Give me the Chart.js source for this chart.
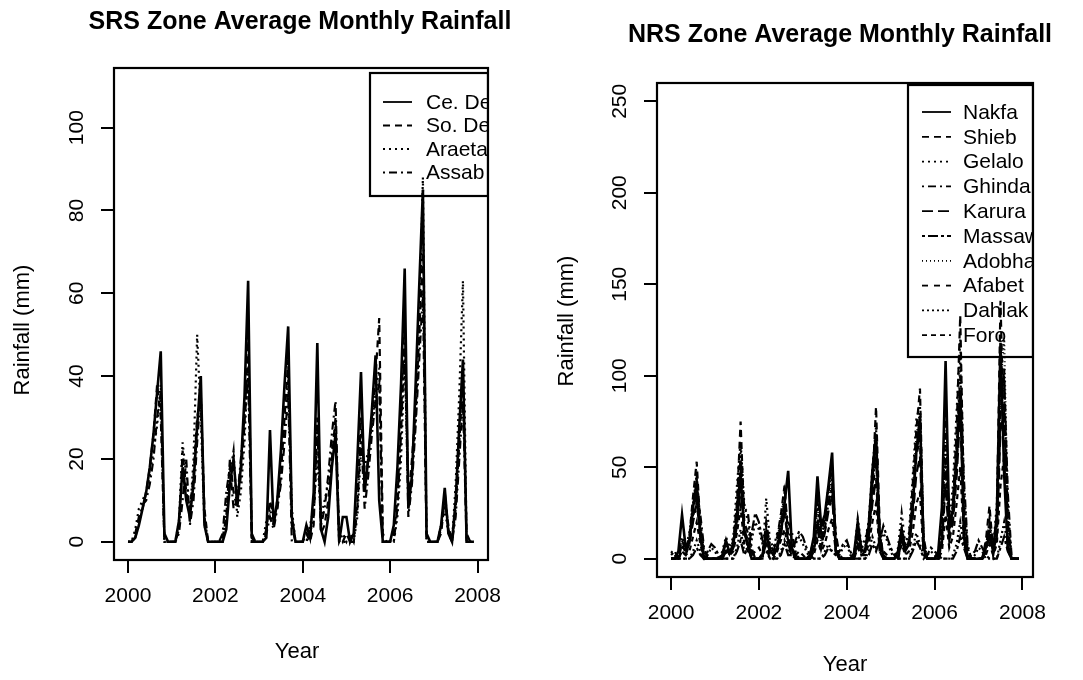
<!DOCTYPE html>
<html>
<head>
<meta charset="utf-8">
<title>SRS / NRS Zone Average Monthly Rainfall</title>
<script src="https://cdn.jsdelivr.net/npm/chart.js@4.4.1/dist/chart.umd.min.js"></script>
<style>
  html, body { margin: 0; padding: 0; background: #fff; }
  .wrap { display: flex; width: 1083px; height: 680px; }
  canvas { display: block; }
</style>
</head>
<body>
<div class="wrap">
  <canvas id="chart-srs" width="541" height="680"></canvas>
  <canvas id="chart-nrs" width="542" height="680"></canvas>
</div>
<script>
// ============================================
// データ（月別、2000年1月〜2007年12月）
// ============================================
const START_YEAR = 2000;
const X_RANGE = [1999.68, 2008.24];
const X_TICKS = [2000, 2002, 2004, 2006, 2008];

const SRS_Y_RANGE = [-4.4, 114.4];
const SRS_Y_TICKS = [0, 20, 40, 60, 80, 100];
const NRS_Y_RANGE = [-10, 260];
const NRS_Y_TICKS = [0, 50, 100, 150, 200, 250];

const SRS_STATIONS = ['Ce. Denkalia', 'So. Denkalia', 'Araeta', 'Assab'];
const NRS_STATIONS = ['Nakfa', 'Shieb', 'Gelalo', 'Ghinda', 'Karura', 'Massawa', 'Adobha', 'Afabet', 'Dahlak', 'Foro'];

// --- SRS zone ---
const CE_DENKALIA = [
  0,0,1,4,8,12,18,26,36,46,2,0,
  0,0,5,18,10,6,14,28,40,4,0,0,
  0,0,0,3,14,20,9,18,35,63,1,0,
  0,0,1,27,4,10,22,38,52,6,0,0,
  0,4,1,12,48,3,0,6,18,26,0,6,
  6,0,2,20,41,12,20,32,45,10,0,0,
  0,4,18,38,66,8,16,38,62,85,2,0,
  0,0,4,13,2,0,10,28,44,0,0,0
];
const SO_DENKALIA = [
  0,0,2,6,8,12,18,26,38,30,0,0,
  0,0,3,22,12,8,16,30,35,8,0,0,
  0,0,1,6,20,12,8,16,28,50,2,0,
  0,0,3,10,6,8,16,30,44,4,0,0,
  0,2,0,4,30,2,4,10,20,30,2,0,
  2,0,1,10,30,14,20,30,40,54,2,0,
  0,2,10,30,55,10,20,32,50,70,0,0,
  0,0,2,10,4,0,8,24,40,2,0,0
];
const ARAETA = [
  0,0,3,8,10,12,16,22,28,38,0,0,
  0,0,5,24,16,6,20,50,30,4,0,0,
  0,0,0,8,16,22,6,12,24,44,0,0,
  0,0,5,8,4,10,18,28,40,8,0,0,
  0,0,4,8,20,6,10,14,22,28,0,2,
  0,2,0,6,22,18,22,28,36,42,0,0,
  0,0,6,20,44,12,16,30,50,88,0,0,
  0,0,4,8,2,0,14,36,63,0,0,0
];
const ASSAB = [
  0,0,1,5,9,10,14,20,30,36,0,0,
  0,0,2,10,20,4,10,24,36,6,0,0,
  0,0,2,12,18,8,10,20,30,40,0,0,
  0,0,2,6,3,8,14,24,36,0,0,0,
  0,0,2,6,28,4,8,16,26,34,0,0,
  0,0,0,8,26,8,16,26,34,38,0,0,
  0,0,8,26,50,6,14,28,44,60,0,0,
  0,0,3,12,3,0,6,20,34,0,0,0
];

// --- NRS zone ---
const NAKFA = [
  0,0,4,24,6,10,28,42,12,0,0,0,
  0,0,2,10,3,8,22,46,14,8,0,0,
  0,2,14,5,2,6,14,30,48,6,0,0,
  0,0,2,12,45,18,24,40,58,4,0,0,
  0,0,3,20,5,4,18,48,68,10,2,0,
  0,0,4,16,5,8,28,58,78,6,0,0,
  0,4,28,108,18,26,55,92,12,0,0,0,
  0,0,6,12,5,24,118,46,5,0,0,0
];
const SHIEB = [
  0,0,3,10,5,12,34,53,18,2,0,0,
  0,0,3,8,4,10,30,75,20,14,4,0,
  0,3,20,6,4,12,24,40,12,6,2,0,
  0,0,3,10,36,14,22,36,50,10,0,0,
  0,0,2,14,4,6,12,40,83,18,0,0,
  0,0,3,12,4,10,40,70,93,8,0,0,
  0,3,20,80,16,30,70,133,30,4,0,0,
  0,0,10,29,4,22,141,60,10,0,0,0
];
const GELALO = [
  0,0,2,12,6,14,30,46,20,4,0,0,
  0,0,4,12,6,12,40,64,30,20,2,0,
  0,2,33,10,6,14,20,36,16,10,4,0,
  0,0,2,8,30,12,20,40,46,12,0,0,
  0,0,2,22,8,10,20,50,72,12,0,0,
  0,0,6,25,8,14,44,76,84,10,0,0,
  0,2,16,60,20,40,80,120,40,6,0,0,
  0,0,8,18,6,30,110,90,30,0,0,0
];
const GHINDA = [
  0,0,0,6,4,10,24,38,24,6,0,0,
  0,0,0,6,3,8,26,56,28,25,6,0,
  0,0,18,8,4,8,18,30,20,15,2,0,
  0,0,0,6,20,10,18,30,40,14,2,0,
  0,0,0,10,6,8,20,40,60,14,0,0,
  0,0,2,14,10,12,30,58,70,12,0,0,
  0,0,10,50,14,30,60,100,44,8,0,0,
  0,0,6,20,4,16,80,100,36,2,0,0
];
const KARURA = [
  0,0,0,4,2,8,20,30,14,2,0,0,
  0,0,0,4,2,6,18,40,16,10,0,0,
  0,0,10,4,2,6,14,24,10,4,0,0,
  0,0,0,4,16,6,14,26,34,6,0,0,
  0,0,0,8,2,4,12,30,44,6,0,0,
  0,0,0,10,4,8,22,46,56,4,0,0,
  0,0,8,40,10,20,44,80,24,2,0,0,
  0,0,4,14,2,12,70,80,20,0,0,0
];
const MASSAWA = [
  2,4,0,0,0,0,2,6,2,0,4,8,
  6,2,0,0,0,0,4,10,2,6,14,25,
  20,10,6,0,0,0,2,8,2,2,10,15,
  12,6,2,0,0,0,2,6,4,2,4,8,
  10,4,0,0,0,0,2,8,4,10,18,12,
  6,2,0,0,0,0,4,10,6,0,2,6,
  4,2,0,0,0,0,4,12,6,0,2,4,
  10,6,2,0,0,0,6,12,4,0,0,0
];
const ADOBHA = [
  0,0,2,10,4,10,26,44,16,0,0,0,
  0,0,2,8,3,8,30,60,18,8,0,0,
  0,0,16,6,2,8,24,34,8,4,0,0,
  0,0,2,8,28,8,20,34,44,6,0,0,
  0,0,2,16,4,6,18,40,66,8,0,0,
  0,0,2,18,6,10,36,66,80,6,0,0,
  0,0,14,70,14,30,64,110,20,0,0,0,
  0,0,6,22,4,20,96,120,20,0,0,0
];
const AFABET = [
  0,0,0,8,3,8,22,36,12,0,0,0,
  0,0,0,6,2,6,24,50,14,6,0,0,
  0,0,12,4,2,6,20,30,8,2,0,0,
  0,0,0,6,22,6,16,30,38,4,0,0,
  0,0,0,12,3,4,14,34,56,4,0,0,
  0,0,0,14,4,8,30,56,66,4,0,0,
  0,0,10,56,10,24,50,90,16,0,0,0,
  0,0,4,16,3,14,80,104,14,0,0,0
];
const DAHLAK = [
  4,2,0,0,0,0,4,10,4,0,2,6,
  4,0,0,0,0,0,6,16,4,4,10,20,
  16,8,4,0,0,0,4,10,4,4,8,12,
  8,4,0,0,0,0,4,8,4,2,2,6,
  8,2,0,0,0,0,4,12,6,8,14,10,
  4,0,0,0,0,0,6,14,8,2,2,4,
  2,0,0,0,0,2,8,20,8,0,0,2,
  6,4,0,0,0,0,10,20,6,0,0,0
];
const FORO = [
  0,0,0,4,2,4,12,20,8,0,0,0,
  0,0,0,4,2,4,14,28,8,4,2,4,
  6,2,8,2,0,4,10,16,6,2,2,4,
  2,0,0,2,10,4,8,16,22,4,0,0,
  0,0,0,6,2,2,8,20,30,4,4,2,
  0,0,0,8,2,4,14,30,36,2,0,0,
  0,0,4,24,6,12,30,50,10,0,0,0,
  0,0,2,8,2,8,40,56,8,0,0,0
];

(function() {
  'use strict';

  const FONT = '"Liberation Sans", Arial, sans-serif';
  // R の lty 風の破線パターン
  const DASHES = [[], [7, 5], [2, 4], [2, 4, 8, 4], [11, 5], [3, 3, 10, 3], [1, 3], [6, 6], [2, 3], [5, 4]];

  const toPoints = vals => vals.map((v, i) => ({ x: START_YEAR + i / 12, y: v }));

  // 枠・回転した目盛ラベル・タイトル・凡例を R 風に描く
  const rFrame = {
    id: 'rFrame',
    afterDraw(chart, args, o) {
      const { ctx, chartArea: a } = chart;
      const y = chart.scales.y;
      ctx.save();
      ctx.fillStyle = '#000';
      ctx.strokeStyle = '#000';
      ctx.setLineDash([]);

      // 外枠
      ctx.lineWidth = 2.2;
      ctx.strokeRect(a.left, a.top, a.right - a.left, a.bottom - a.top);

      // y 目盛ラベル（軸と平行）
      ctx.font = '21px ' + FONT;
      ctx.textAlign = 'center';
      ctx.textBaseline = 'middle';
      o.yTicks.forEach(v => {
        ctx.save();
        ctx.translate(a.left - 37, y.getPixelForValue(v));
        ctx.rotate(-Math.PI / 2);
        ctx.fillText(String(v), 0, 0);
        ctx.restore();
      });

      // 軸タイトル
      ctx.font = '22px ' + FONT;
      ctx.save();
      ctx.translate(o.yTitleX, o.yTitleY);
      ctx.rotate(-Math.PI / 2);
      ctx.fillText('Rainfall (mm)', 0, 0);
      ctx.restore();
      ctx.fillText('Year', o.xTitleX, o.xTitleY);

      // メインタイトル
      ctx.font = 'bold 25px ' + FONT;
      ctx.fillText(o.title, o.titleX, o.titleY);

      // 凡例（プロット右端で切れる）
      const lg = o.legend;
      ctx.save();
      ctx.beginPath();
      ctx.rect(0, 0, a.right + 1, chart.height);
      ctx.clip();
      ctx.lineWidth = 2.2;
      ctx.strokeRect(lg.left, lg.top, a.right - lg.left, lg.bottom - lg.top);
      ctx.font = '21px ' + FONT;
      ctx.textAlign = 'left';
      chart.data.datasets.forEach((ds, i) => {
        const ry = lg.firstRow + i * lg.rowGap;
        ctx.lineWidth = 1.8;
        ctx.setLineDash(ds.borderDash || []);
        ctx.beginPath();
        ctx.moveTo(lg.sampleX, ry);
        ctx.lineTo(lg.sampleX + 29, ry);
        ctx.stroke();
        ctx.setLineDash([]);
        ctx.fillText(ds.label, lg.textX, ry + 1);
      });
      ctx.restore();

      ctx.restore();
    }
  };

  function makeChart(id, p) {
    const tickGrid = { drawOnChartArea: false, color: '#000', lineWidth: 2, tickLength: 13 };
    return new Chart(document.getElementById(id), {
      type: 'line',
      data: {
        datasets: p.series.map((vals, i) => ({
          label: p.labels[i],
          data: toPoints(vals),
          borderColor: '#000',
          borderWidth: i === 0 ? 2.6 : 2.2,
          borderDash: DASHES[i],
          pointRadius: 0,
          tension: 0,
          fill: false
        }))
      },
      options: {
        responsive: false,
        animation: false,
        devicePixelRatio: 1,
        layout: { padding: { left: 0, top: p.top, right: p.right, bottom: 0 } },
        scales: {
          x: {
            type: 'linear',
            min: X_RANGE[0],
            max: X_RANGE[1],
            afterBuildTicks: s => { s.ticks = X_TICKS.map(v => ({ value: v })); },
            afterFit: s => { s.height = p.xAxisH; },
            border: { display: false },
            grid: tickGrid,
            ticks: {
              color: '#000',
              font: { family: 'Liberation Sans', size: 21 },
              padding: 11,
              maxRotation: 0,
              autoSkip: false,
              callback: v => String(v)
            }
          },
          y: {
            type: 'linear',
            min: p.yRange[0],
            max: p.yRange[1],
            afterBuildTicks: s => { s.ticks = p.yTicks.map(v => ({ value: v })); },
            afterFit: s => { s.width = p.left; },
            border: { display: false },
            grid: tickGrid,
            ticks: { display: false }
          }
        },
        plugins: {
          legend: { display: false },
          tooltip: { enabled: false },
          rFrame: {
            title: p.title, titleX: p.titleX, titleY: p.titleY,
            yTicks: p.yTicks,
            yTitleX: p.yTitleX, yTitleY: p.yTitleY,
            xTitleX: p.xTitleX, xTitleY: p.xTitleY,
            legend: p.legend
          }
        }
      },
      plugins: [rFrame]
    });
  }

  makeChart('chart-srs', {
    title: 'SRS Zone Average Monthly Rainfall', titleX: 300, titleY: 22,
    labels: SRS_STATIONS,
    series: [CE_DENKALIA, SO_DENKALIA, ARAETA, ASSAB],
    yRange: SRS_Y_RANGE, yTicks: SRS_Y_TICKS,
    left: 114, right: 53, top: 68, xAxisH: 120,
    yTitleX: 23, yTitleY: 330, xTitleX: 297, xTitleY: 652,
    legend: { left: 370, top: 73, bottom: 196, firstRow: 102, rowGap: 23.5, sampleX: 383, textX: 426 }
  });

  makeChart('chart-nrs', {
    title: 'NRS Zone Average Monthly Rainfall', titleX: 299, titleY: 35,
    labels: NRS_STATIONS,
    series: [NAKFA, SHIEB, GELALO, GHINDA, KARURA, MASSAWA, ADOBHA, AFABET, DAHLAK, FORO],
    yRange: NRS_Y_RANGE, yTicks: NRS_Y_TICKS,
    left: 116, right: 50, top: 83, xAxisH: 103,
    yTitleX: 26, yTitleY: 321, xTitleX: 304, xTitleY: 665,
    legend: { left: 367, top: 85, bottom: 357, firstRow: 112, rowGap: 24.8, sampleX: 381, textX: 422 }
  });
})();
</script>
</body>
</html>
